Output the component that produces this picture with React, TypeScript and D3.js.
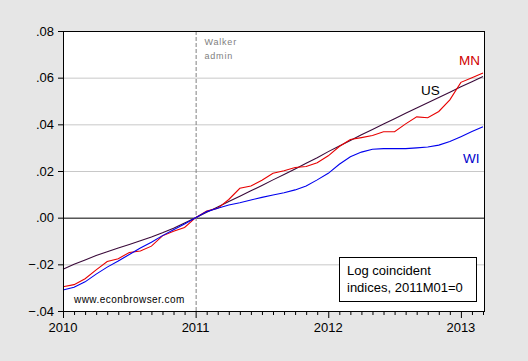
import * as d3 from 'd3';
import React from 'react';

// monthly observations, 2010M01 .. 2013M03 (index 0 = 2010M01)
const years = ['2010', '2011', '2012', '2013'];
const yTicks = [-0.04, -0.02, 0, 0.02, 0.04, 0.06, 0.08];

const us = [
    -0.0221, -0.02, -0.0181, -0.0162, -0.0146, -0.013, -0.0115, -0.0099, -0.0083, -0.0065, -0.0045, -0.0023, 0,
    0.0023, 0.0046, 0.0069, 0.0092, 0.0115, 0.0138, 0.0162, 0.0185, 0.0209, 0.0233, 0.0257, 0.0283,
    0.0307, 0.0331, 0.0355, 0.0378, 0.0401, 0.0424, 0.0447, 0.047, 0.0492, 0.0515, 0.0538, 0.0561, 0.0583, 0.0605,
];
const mn = [
    -0.0296, -0.0287, -0.0262, -0.0224, -0.0188, -0.0176, -0.0149, -0.0143, -0.0122, -0.0078, -0.0058, -0.0042, 0,
    0.0028, 0.004, 0.0078, 0.0126, 0.0136, 0.016, 0.019, 0.0201, 0.0215, 0.0219, 0.0235, 0.0265,
    0.0305, 0.0335, 0.0343, 0.0352, 0.0368, 0.0368, 0.0402, 0.0432, 0.0428, 0.0455, 0.0505, 0.058, 0.06, 0.062,
];
const wi = [
    -0.031, -0.0298, -0.0275, -0.0242, -0.0212, -0.0186, -0.0158, -0.013, -0.0105, -0.0077, -0.0052, -0.0027, 0,
    0.0026, 0.004, 0.0054, 0.0064, 0.0076, 0.0087, 0.0097, 0.0107, 0.0119, 0.0136, 0.0162, 0.019,
    0.0229, 0.0261, 0.0281, 0.0293, 0.0296, 0.0296, 0.0296, 0.0299, 0.0303, 0.0311, 0.0326, 0.0347, 0.0369, 0.039,
];

const series = [
    { name: 'US', values: us, color: '#3a0a3a' },
    { name: 'MN', values: mn, color: '#e80000' },
    { name: 'WI', values: wi, color: '#0000ee' },
];

const W = 528;
const H = 361;
const FONT = '"Liberation Sans", Arial, sans-serif';

export default function App() {
    const left = 63;
    const right = 484;
    const top = 31;
    const bottom = 311;

    const x = d3.scaleLinear().domain([0, 38]).range([left, 483]);
    const y = d3.scaleLinear().domain([-0.04, 0.08]).range([bottom, top]);

    const line = d3
        .line<number>()
        .x((_, i) => x(i))
        .y((d) => y(d));

    const fmt = (v: number) => d3.format('.2f')(v).replace('0.', '.');
    const months = d3.range(0, 39);

    return (
        <svg
            width={W}
            height={H}
            style={{ position: 'absolute', left: 0, top: 0, display: 'block' }}
            fontFamily={FONT}
        >
            <rect width={W} height={H} fill="#e6e6e6" />
            <rect x={left} y={top} width={right - left} height={bottom - top} fill="#fff" />

            {/* grid */}
            {yTicks
                .filter((t) => t !== 0 && t !== 0.08 && t !== -0.04)
                .map((t) => (
                    <line key={t} x1={left} x2={right} y1={y(t) + 0.5} y2={y(t) + 0.5} stroke="#c8c8c8" />
                ))}
            <line x1={left} x2={right} y1={y(0) + 0.5} y2={y(0) + 0.5} stroke="#000" />

            {/* Walker admin marker */}
            <line
                x1={x(12) + 0.5}
                x2={x(12) + 0.5}
                y1={top}
                y2={bottom}
                stroke="#808080"
                strokeDasharray="4,2"
            />
            <text x={204.5} y={45} fontSize={9} fill="#808080" letterSpacing={0.8}>Walker</text>
            <text x={204.5} y={58.5} fontSize={9} fill="#808080" letterSpacing={0.8}>admin</text>

            {series.map((s) => (
                <path key={s.name} d={line(s.values) ?? ''} fill="none" stroke={s.color} strokeWidth={1.1} />
            ))}

            {/* frame */}
            <rect
                x={left + 0.5}
                y={top + 0.5}
                width={right - left}
                height={bottom - top}
                fill="none"
                stroke="#000"
            />

            {/* y axis */}
            {yTicks.map((t) => (
                <g key={t}>
                    <line x1={left - 5} x2={left} y1={y(t) + 0.5} y2={y(t) + 0.5} stroke="#000" />
                    <text x={54} y={y(t)} dy="0.36em" textAnchor="end" fontSize={13}>
                        {fmt(t)}
                    </text>
                </g>
            ))}

            {/* x axis */}
            {months.map((m) => (
                <line
                    key={m}
                    x1={x(m) + 0.5}
                    x2={x(m) + 0.5}
                    y1={bottom}
                    y2={bottom + (m % 12 === 0 ? 7 : 4)}
                    stroke="#000"
                />
            ))}
            {years.map((yr, i) => (
                <text key={yr} x={x(i * 12)} y={331.5} textAnchor="middle" fontSize={13}>
                    {yr}
                </text>
            ))}

            {/* series labels */}
            <text x={459} y={65} fontSize={13.5} fill="#d00000">MN</text>
            <text x={421} y={95} fontSize={13.5} fill="#000">US</text>
            <text x={463} y={163} fontSize={13.5} fill="#0000cc">WI</text>

            <text x={74} y={302.5} fontSize={10} letterSpacing={0.45}>www.econbrowser.com</text>

            {/* note box */}
            <rect x={339.5} y={257.5} width={137} height={44} fill="#fff" stroke="#000" />
            <text x={347} y={275} fontSize={13}>Log coincident</text>
            <text x={347} y={292} fontSize={13}>indices, 2011M01=0</text>
        </svg>
    );
}
